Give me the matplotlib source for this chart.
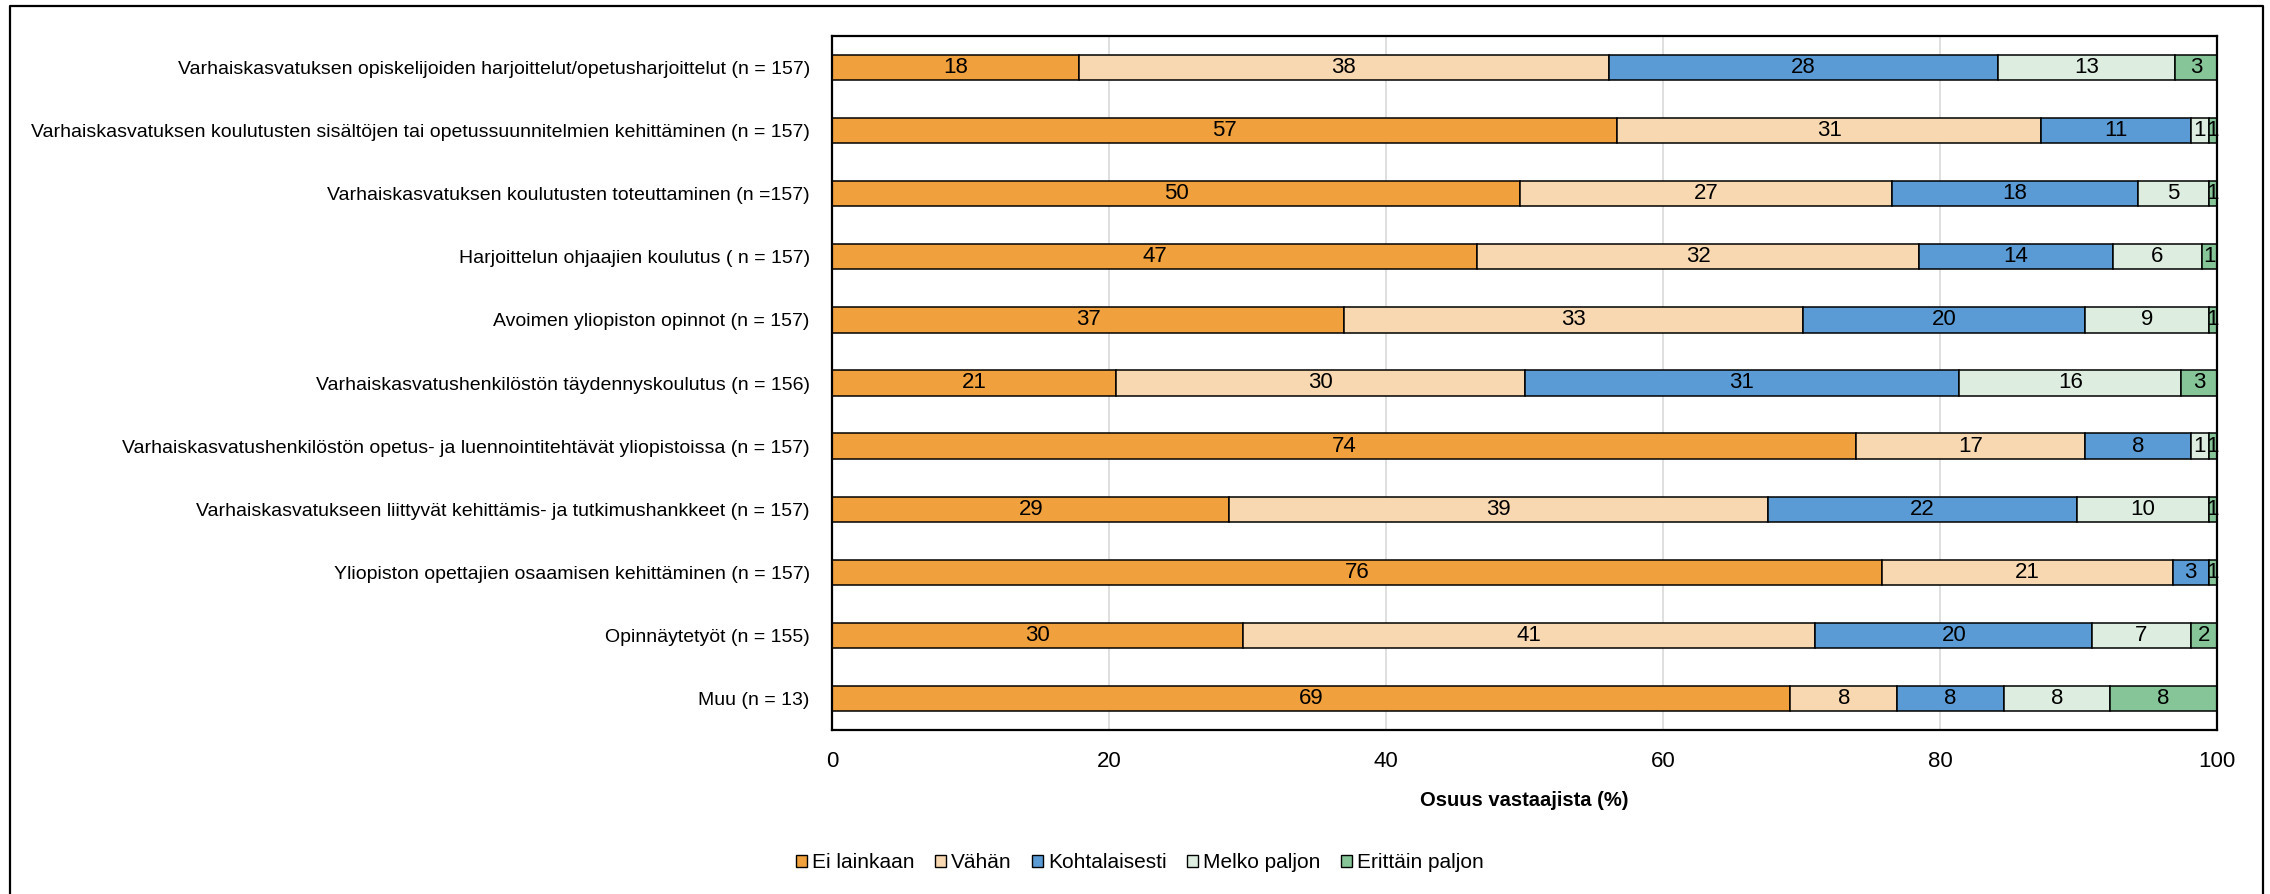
import numpy as np
import matplotlib
matplotlib.use("Agg")
import matplotlib.pyplot as plt
from matplotlib import font_manager
from matplotlib.patches import Patch
from matplotlib.lines import Line2D

# kapeampi fontti jos loytyy
nimet = {f.name for f in font_manager.fontManager.ttflist}
if "Liberation Sans Narrow" in nimet:
    plt.rcParams["font.family"] = ["Liberation Sans Narrow", "DejaVu Sans"]
    fs_nimi, fs_arvo, fs_akseli, fs_selite = 17, 17, 17, 17
else:
    plt.rcParams["font.family"] = ["Liberation Sans", "DejaVu Sans"]
    fs_nimi, fs_arvo, fs_akseli, fs_selite = 14, 16, 16, 15

kategoriat = [
    "Varhaiskasvatuksen opiskelijoiden harjoittelut/opetusharjoittelut (n = 157)",
    "Varhaiskasvatuksen koulutusten sisältöjen tai opetussuunnitelmien kehittäminen (n = 157)",
    "Varhaiskasvatuksen koulutusten toteuttaminen (n =157)",
    "Harjoittelun ohjaajien koulutus ( n = 157)",
    "Avoimen yliopiston opinnot (n = 157)",
    "Varhaiskasvatushenkilöstön täydennyskoulutus (n = 156)",
    "Varhaiskasvatushenkilöstön opetus- ja luennointitehtävät yliopistoissa (n = 157)",
    "Varhaiskasvatukseen liittyvät kehittämis- ja tutkimushankkeet (n = 157)",
    "Yliopiston opettajien osaamisen kehittäminen (n = 157)",
    "Opinnäytetyöt (n = 155)",
    "Muu (n = 13)",
]

sarjat = ["Ei lainkaan", "Vähän", "Kohtalaisesti", "Melko paljon", "Erittäin paljon"]

ei_lainkaan = [17.8, 56.7, 49.7, 46.6, 37.0, 20.5, 73.9, 28.7, 75.8, 29.7, 69.2]
vahan = [38.3, 30.6, 26.8, 31.9, 33.1, 29.5, 16.6, 38.9, 21.0, 41.3, 7.7]
kohtalaisesti = [28.1, 10.8, 17.8, 14.0, 20.4, 31.4, 7.6, 22.3, 2.6, 20.0, 7.7]
melko_paljon = [12.8, 1.3, 5.1, 6.4, 8.9, 16.0, 1.3, 9.5, 0.0, 7.1, 7.7]
erittain_paljon = [3.0, 0.6, 0.6, 1.1, 0.6, 2.6, 0.6, 0.6, 0.6, 1.9, 7.7]

varit = ["#F0A03C", "#F8D8B0", "#5B9BD5", "#DDEEE1", "#85C597"]

W, H = 2270, 894
fig = plt.figure(figsize=(W / 100, H / 100), dpi=100)
ax = fig.add_axes([832 / W, 1 - 730 / H, (2217 - 832) / W, (730 - 36) / H])

arvot = [ei_lainkaan, vahan, kohtalaisesti, melko_paljon, erittain_paljon]
y = np.arange(len(kategoriat))
vasen = np.zeros(len(kategoriat))
for nimi, data, vari in zip(sarjat, arvot, varit):
    data = np.array(data)
    palkit = ax.barh(y, data, left=vasen, height=0.4, color=vari,
                     edgecolor="black", linewidth=1.1, label=nimi, zorder=2)
    for p, v in zip(palkit, data):
        if v <= 0:
            continue
        ax.text(p.get_x() + p.get_width() / 2, p.get_y() + p.get_height() / 2,
                str(int(v + 0.5)), ha="center", va="center", fontsize=fs_arvo,
                color="black", zorder=3)
    vasen += data

ax.set_xlim(0, 100)
ax.set_ylim(len(kategoriat) - 0.5, -0.5)
ax.set_yticks(y)
ax.set_yticklabels(kategoriat, fontsize=fs_nimi)
ax.set_xticks([0, 20, 40, 60, 80, 100])
ax.tick_params(axis="y", length=0, pad=16)
ax.tick_params(axis="x", length=0, pad=15, labelsize=fs_akseli)
ax.set_xlabel("Osuus vastaajista (%)", fontsize=14.5, fontweight="bold", labelpad=14)
ax.grid(axis="x", color="#D9D9D9", linewidth=1.2, zorder=0)
ax.set_axisbelow(True)
for s in ax.spines.values():
    s.set_linewidth(1.6)
    s.set_color("black")

kahvat = [Patch(facecolor=v, edgecolor="black", linewidth=1.0) for v in varit]
fig.legend(kahvat, sarjat, loc="center", bbox_to_anchor=(1140 / W, 1 - 863 / H),
           ncol=5, frameon=False, fontsize=fs_selite, handlelength=0.5, handleheight=0.55,
           handletextpad=0.25, columnspacing=1.0)

# kehys kuvan ympari (alareuna jaa kuvan ulkopuolelle)
x0, x1, y1 = 10 / W, 2263 / W, 1 - 6 / H
fig.add_artist(Line2D([x0, x0, x1, x1], [0, y1, y1, 0], transform=fig.transFigure,
                      color="black", linewidth=1.6))

fig.savefig("out.png", dpi=100)
